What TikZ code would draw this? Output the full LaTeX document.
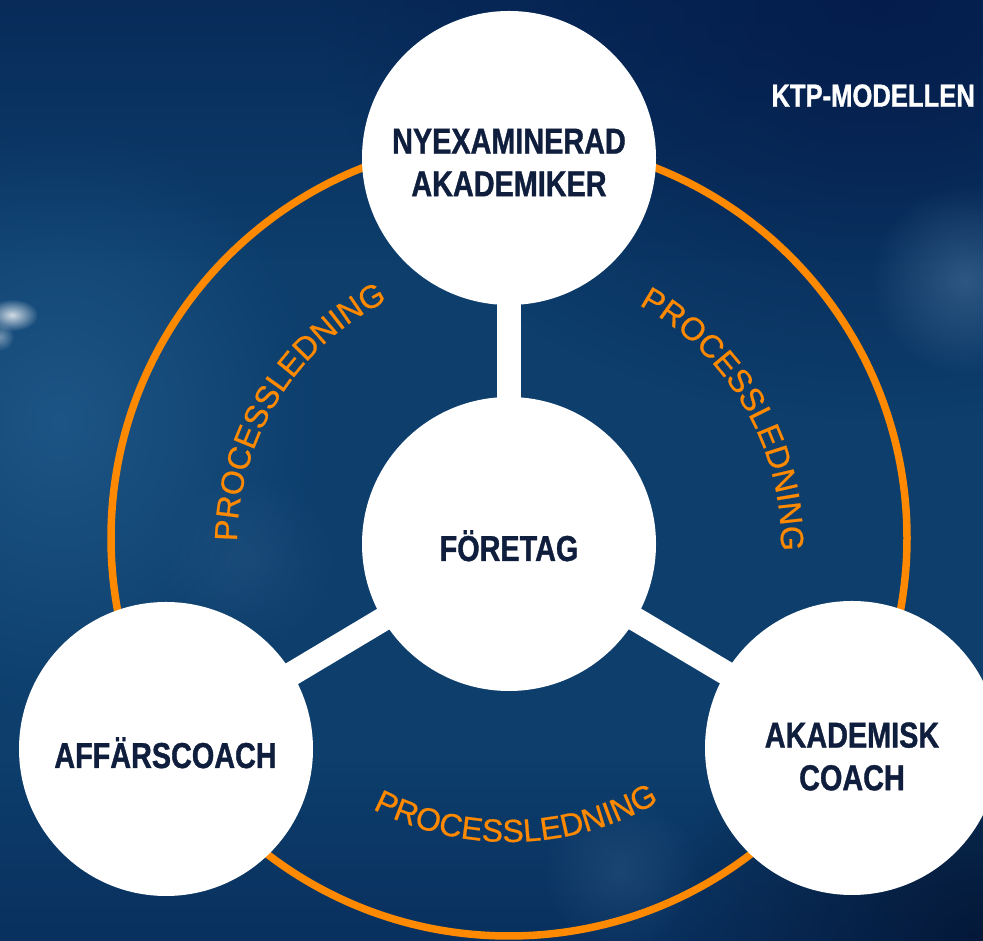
\documentclass[tikz,border=0pt]{standalone}
\usepackage{fontspec}
\setmainfont{Liberation Sans}
\newfontfamily\condfont[FakeStretch=0.8,FakeBold=1]{Liberation Sans}
\newfontfamily\procfont[FakeBold=0.6]{Liberation Sans}
\usetikzlibrary{decorations.text,fadings}
\tikzfading[name=softblob, inner color=transparent!0, outer color=transparent!100]
\definecolor{navytext}{RGB}{15,30,60}
\definecolor{ringorange}{RGB}{255,137,0}
\definecolor{bgbase}{RGB}{13,62,108}
\definecolor{bgdark}{RGB}{4,28,75}
\definecolor{bgdeep}{RGB}{4,18,40}
\definecolor{bglight}{RGB}{35,95,145}
\definecolor{bokeh}{RGB}{90,130,170}
\begin{document}
\begin{tikzpicture}[x=1pt,y=1pt,
  bubble/.style={circle,fill=white,minimum size=294pt,inner sep=0pt},
  lbl/.style={text=navytext,font=\condfont\bfseries\fontsize{36}{42.7}\selectfont,align=center,inner sep=0pt},
  spoke/.style={white,line width=24pt},
  ring/.style={ringorange,line width=7.5pt},
  proc/.style={decorate,decoration={text along path,text align=center,
     text={|\procfont\fontsize{32}{32}\selectfont\color{ringorange}|PROCESSLEDNING}}},
  blob/.style={path fading=softblob}
]
\useasboundingbox (0,0) rectangle (983,941);
\clip (0,0) rectangle (983,941);
% background
\fill[bgbase] (0,0) rectangle (983,941);
\fill[bglight,blob,opacity=0.7] (60,520) ellipse (260 and 300);
\fill[bgdark,blob,opacity=0.95] (880,941) ellipse (560 and 420);
\fill[bgdark,path fading=south,opacity=0.55] (0,680) rectangle (983,941);
\fill[bgdeep,blob,opacity=0.9] (983,0) ellipse (330 and 260);
\fill[bgdark,path fading=north,opacity=0.4] (0,0) rectangle (983,180);
\fill[white,blob,opacity=0.8] (12,626) ellipse (26 and 16);
\fill[white,blob,opacity=0.4] (0,604) circle (14);
\fill[bokeh,blob,opacity=0.45] (965,661) circle (95);
\fill[bokeh,blob,opacity=0.2] (620,70) circle (80);
\fill[bokeh,blob,opacity=0.15] (250,380) circle (90);

% geometry
\coordinate (cmid) at (509,397);
\coordinate (ctop) at (509,783);
\coordinate (cbl) at (166,192);
\coordinate (cbr) at (852,193);
\coordinate (ringc) at (509,403);

\draw[ring] (ringc) circle (398);
\draw[spoke] (ctop) -- (cmid);
\draw[spoke] (cbl) -- (cmid);
\draw[spoke] (cbr) -- (cmid);

\node[bubble] (mid) at (cmid) {};
\node[bubble] (top) at (ctop) {};
\node[bubble] (bl) at (cbl) {};
\node[bubble] (br) at (cbr) {};

\node[lbl] (toplbl) at (509,778.5) {NYEXAMINERAD\\AKADEMIKER};
\node[lbl,anchor=base] (midlbl) at (509,380) {FÖRETAG};
\node[lbl,anchor=base] (bllbl) at (165.5,173) {AFFÄRSCOACH};
\node[lbl] (brlbl) at (852,184.5) {AKADEMISK\\COACH};
\node[lbl,text=white,font=\condfont\bfseries\fontsize{32}{38}\selectfont,anchor=base east] (title) at (975,834.3) {KTP-MODELLEN};

\path[proc] ([shift={(181:272)}]cmid) arc[start angle=181,end angle=115,radius=272];
\path[proc] ([shift={(63:272)}]cmid) arc[start angle=63,end angle=-3,radius=272];
\path[proc] ([shift={(242:298)}]cmid) arc[start angle=242,end angle=301,radius=298];
\end{tikzpicture}
\end{document}
